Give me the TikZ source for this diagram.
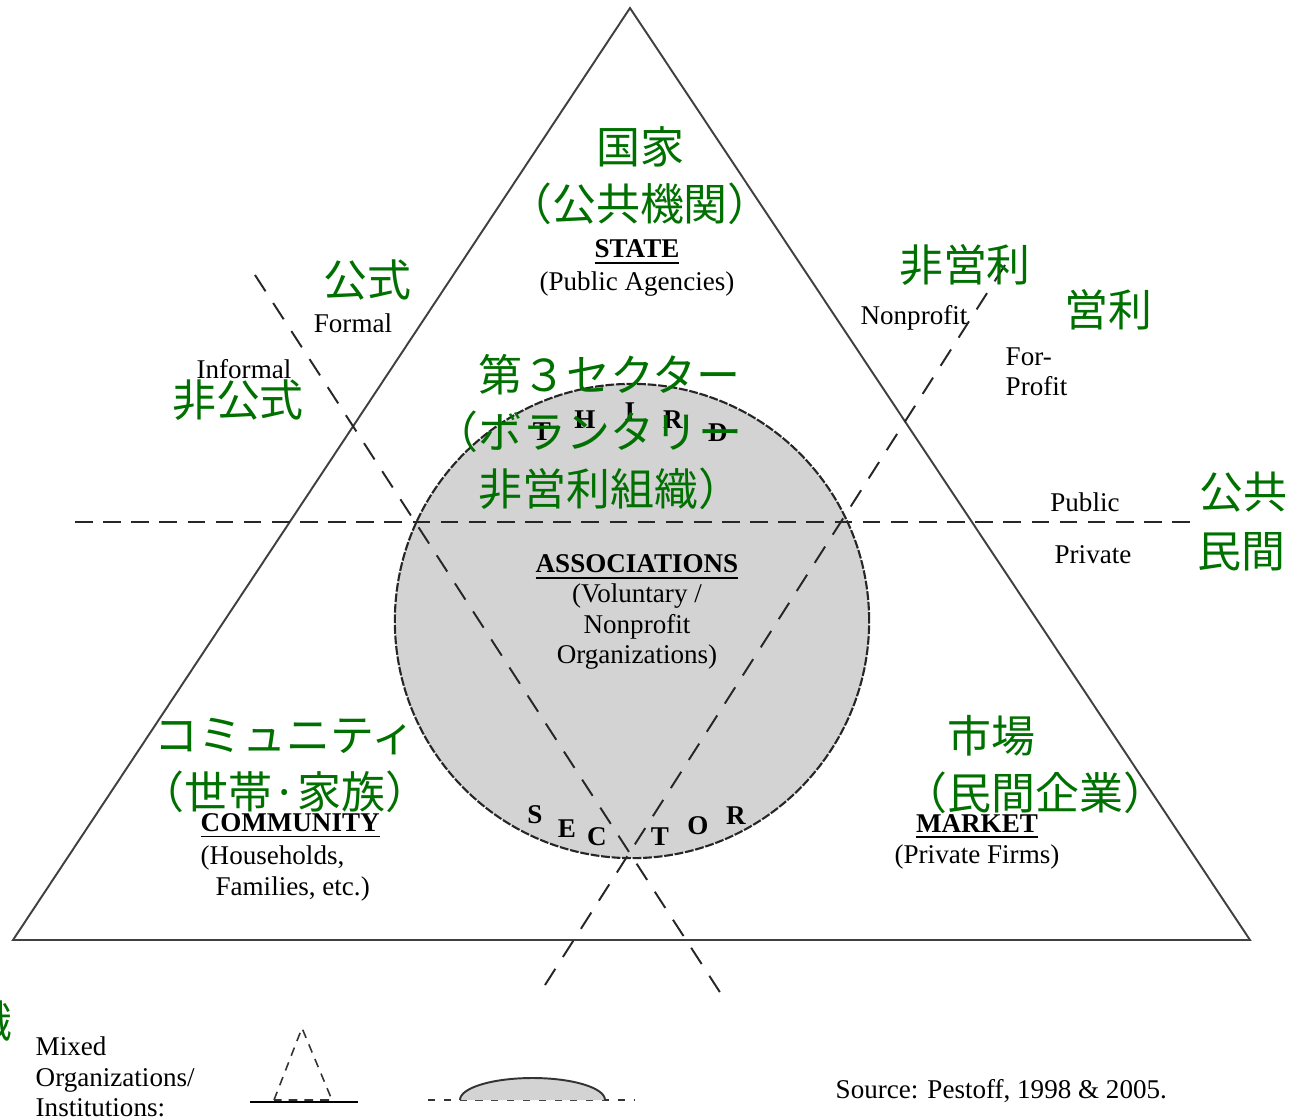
\documentclass[tikz,border=0pt]{standalone}
\usepackage{fontspec}
\setmainfont{Liberation Serif}
\newfontfamily\jpfont{Noto Sans CJK JP}
\definecolor{jgreen}{RGB}{0,112,0}
\definecolor{disc}{RGB}{211,211,211}
\tikzset{
  jp/.style={text=jgreen, font=\jpfont\fontsize{12.5}{16.2}\selectfont, inner sep=0pt, align=center},
  en/.style={font=\fontsize{7.7}{8.6}\selectfont, inner sep=0pt, align=center},
  letter/.style={font=\bfseries\fontsize{7.7}{8.6}\selectfont, inner sep=0pt},
  edgeline/.style={line width=0.55pt, black!75},
  divider/.style={line width=0.55pt, black!85, dash pattern=on 5pt off 3pt},
  cutline/.style={line width=0.55pt, black!85, dash pattern=on 5.5pt off 4pt},
}

\begin{document}
\begin{tikzpicture}[x=0.01cm, y=-0.01cm]
    \useasboundingbox (0,0) rectangle (1293,1117);

    % triangle and the third sector disc
    \coordinate (top) at (630,8);
    \coordinate (bl) at (13,940);
    \coordinate (br) at (1250,940);
    \node[circle, fill=disc, draw=black!85, line width=0.6pt, dash pattern=on 2.5pt off 0.5pt,
          minimum size=4.74cm, inner sep=0pt] (disc) at (632,621) {};
    \draw[edgeline] (top) -- (bl) -- (br) -- cycle;

    % dividing lines
    \coordinate (h1) at (75,522);
    \coordinate (h2) at (1195,522);
    \coordinate (f1) at (255,275);
    \coordinate (f2) at (725,1000);
    \coordinate (p1) at (1005,265);
    \coordinate (p2) at (545,985);
    \draw[divider] (h1) -- (h2);
    \draw[cutline] (f1) -- (f2);
    \draw[cutline] (p1) -- (p2);

    % english labels
    \node[en] (state) at (637,268) {\underline{\textbf{STATE}}\\[0.6pt](Public Agencies)};
    \node[en] (assoc) at (637,612) {\underline{\textbf{ASSOCIATIONS}}\\(Voluntary /\\Nonprofit\\Organizations)};
    \node[en, align=left, anchor=west] (comm) at (200,857) {\underline{\textbf{COMMUNITY}}\\[1pt](Households,\\\hspace*{0.55em}Families, etc.)};
    \node[en] (market) at (977,842) {\underline{\textbf{MARKET}}\\[0.4pt](Private Firms)};
    \node[en] (formal) at (353,323) {Formal};
    \node[en] (informal) at (244,369) {Informal};
    \node[en] (nonprofit) at (914,318) {Nonprofit};
    \node[en, align=left, anchor=west] (forprofit) at (1005,372) {For-\\Profit};
    \node[en] (public) at (1085,502) {Public};
    \node[en] (private) at (1093,555) {Private};

    % letters round the disc
    \node[letter] (t1) at (542,432) {T};
    \node[letter] (t2) at (585,420) {H};
    \node[letter] (t3) at (630,412) {I};
    \node[letter] (t4) at (673,420) {R};
    \node[letter] (t5) at (718,433) {D};
    \node[letter] (s1) at (535,815) {S};
    \node[letter] (s2) at (567,829) {E};
    \node[letter] (s3) at (597,837) {C};
    \node[letter] (s4) at (660,837) {T};
    \node[letter] (s5) at (698,826) {O};
    \node[letter] (s6) at (736,816) {R};

    % japanese labels
    \node[jp] (kokka) at (640,176) {国家\\（公共機関）};
    \node[jp] (koshiki) at (367,280) {公式};
    \node[jp] (hikoshiki) at (238,400) {非公式};
    \node[jp] (hieiri) at (965,265) {非営利};
    \node[jp] (eiri) at (1108,310) {営利};
    \node[jp] (kokyo) at (1243,492) {公共};
    \node[jp] (minkan) at (1241,552) {民間};
    \node[jp, align=left, anchor=west] (dai3) at (434,432) {\hspace*{1em}第３セクター\\（ボランタリー\\\hspace*{1em}非営利組織）};
    \node[jp] (komyu) at (285,765) {コミュニティ\\（世帯·家族）};
    \node[jp, align=left, anchor=west] (shijo) at (903,765) {\hspace*{1em}市場\\（民間企業）};
    \node[jp, anchor=east] (soshiki) at (13,1021) {織};

    % legend
    \node[en, align=left, anchor=west] (mixed) at (35,1077) {Mixed\\Organizations/\\Institutions:};
    \coordinate (la) at (302,1028);
    \coordinate (lb) at (274,1100);
    \coordinate (lc) at (332,1100);
    \coordinate (ld) at (250,1102);
    \coordinate (le) at (358,1102);
    \draw[line width=0.45pt, black!80, dash pattern=on 2.5pt off 2pt] (lb) -- (la) -- (lc) -- cycle;
    \draw[line width=0.8pt] (ld) -- (le);
    \coordinate (lf) at (428,1100);
    \coordinate (lg) at (635,1100);
    \draw[line width=0.45pt, black!80, dash pattern=on 2pt off 2.5pt] (lf) -- (lg);
    \filldraw[fill=disc, draw=black!80, line width=0.55pt] (460,1100) arc[start angle=180, end angle=360, x radius=72.5, y radius=22];
    \node[en, anchor=west] (source) at (835,1091) {Source: Pestoff, 1998 \& 2005.};
\end{tikzpicture}
\end{document}
